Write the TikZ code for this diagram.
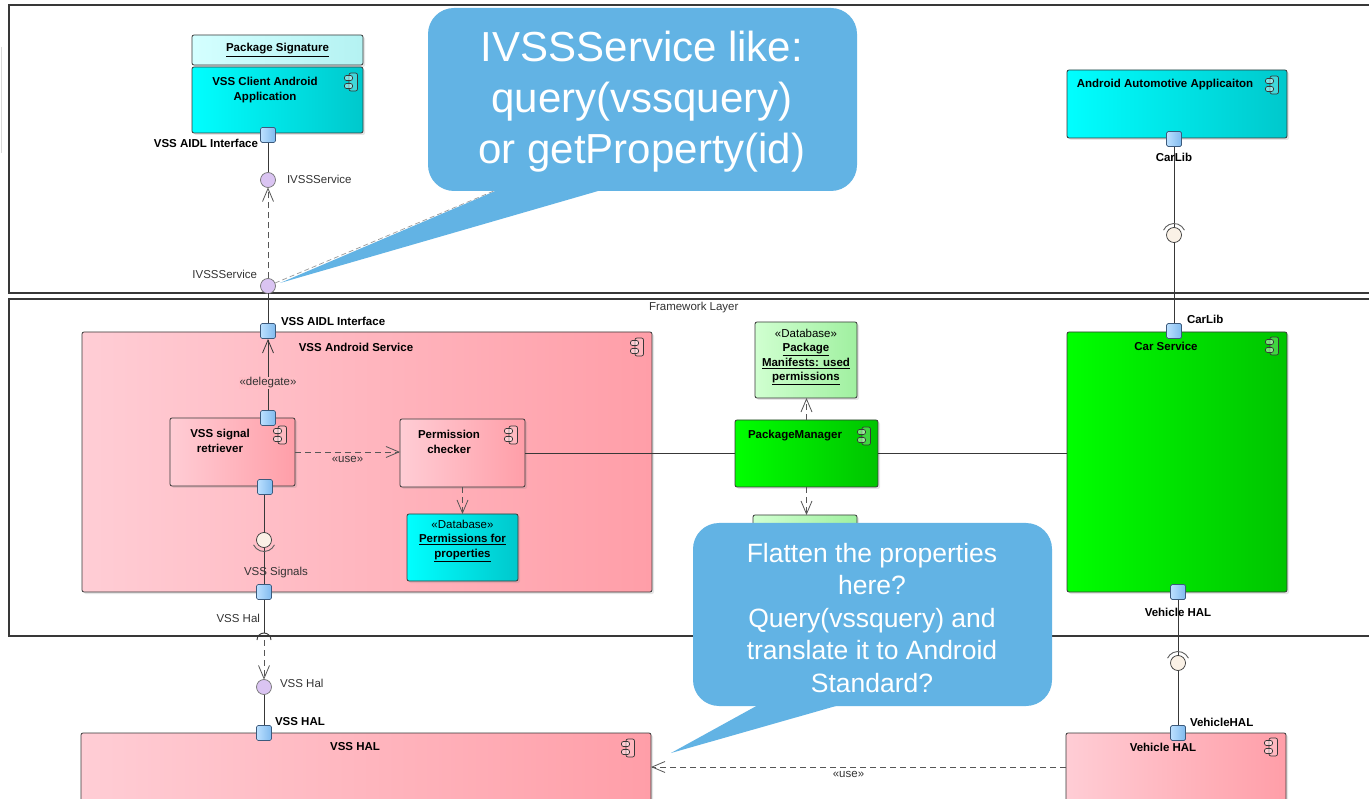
\documentclass[tikz,border=0pt]{standalone}
\usepackage{fontspec}
\setmainfont{Liberation Sans}
\usetikzlibrary{arrows.meta,shadows,calc}
\definecolor{cyanL}{HTML}{00FFFF}
\definecolor{cyanR}{HTML}{00C8CC}
\definecolor{pinkL}{HTML}{FFCDD5}
\definecolor{pinkR}{HTML}{FF9EA8}
\definecolor{greenL}{HTML}{00FF00}
\definecolor{greenR}{HTML}{00C400}
\definecolor{lgreenL}{HTML}{D0FFD0}
\definecolor{lgreenR}{HTML}{A0F0A0}
\definecolor{lcyanL}{HTML}{D4FFFF}
\definecolor{lcyanR}{HTML}{B4F2F2}
\definecolor{portL}{HTML}{BCE0FF}
\definecolor{portR}{HTML}{80BAEE}
\definecolor{portedge}{HTML}{3C5A7C}
\definecolor{lav}{HTML}{DAC4F2}
\definecolor{cream}{HTML}{FAF1E6}
\definecolor{callout}{HTML}{62B3E4}
\definecolor{edge}{HTML}{383838}
\tikzset{
  pics/compicon/.style={code={
    \draw[edge,line width=0.7pt,rounded corners=2pt,fill=white,fill opacity=0.25] (-3,-9) rectangle (5.5,9);
    \draw[edge,line width=0.7pt,rounded corners=2pt,fill=white,fill opacity=0.45] (-7.5,-6.5) rectangle (0.5,-1.5);
    \draw[edge,line width=0.7pt,rounded corners=2pt,fill=white,fill opacity=0.45] (-7.5,1.5) rectangle (0.5,6.5);
  }}
}
\begin{document}
\begin{tikzpicture}[x=1pt,y=-1pt,
  every node/.style={inner sep=0pt,outer sep=0pt},
  comp/.style={draw=edge,line width=0.8pt,rounded corners=2pt,
    drop shadow={shadow xshift=2pt,shadow yshift=-2pt,opacity=0.2}},
  cyanbox/.style={comp,left color=cyanL,right color=cyanR},
  lcyanbox/.style={comp,left color=lcyanL,right color=lcyanR},
  pinkbox/.style={comp,left color=pinkL,right color=pinkR},
  greenbox/.style={comp,left color=greenL,right color=greenR},
  lgreenbox/.style={comp,left color=lgreenL,right color=lgreenR},
  port/.style={draw=portedge,line width=0.7pt,rounded corners=1.5pt,minimum size=15pt,left color=portL,right color=portR},
  lolli/.style={circle,draw=edge!70,fill=lav,line width=0.7pt,minimum size=15pt},
  ball/.style={circle,draw=edge,fill=cream,line width=0.7pt,minimum size=15pt},
  sock/.style={draw=edge!80,line width=0.9pt},
  frame/.style={draw=edge,line width=1.1pt},
  conn/.style={draw=edge,line width=0.9pt},
  dconn/.style={draw=edge!85,line width=0.9pt,dash pattern=on 6pt off 4pt},
  arr/.style={-{Straight Barb[length=13pt,width=11pt,line width=0.8pt]}},
  lblb/.style={font=\fontsize{11.5}{15}\selectfont\bfseries,text=black,align=center},
  lbl/.style={font=\fontsize{11.5}{14}\selectfont,text=black!80,align=center},
  bigtxt/.style={font=\fontsize{42}{51}\selectfont,text=white,align=center},
  midtxt/.style={font=\fontsize{26.5}{32.5}\selectfont,text=white,align=center},
]
\useasboundingbox (0,0) rectangle (1369,799);
\fill[white] (0,0) rectangle (1369,799);
\draw[gray!30,line width=0.8pt] (1,47) -- (1,153);

% frames
\draw[frame] (9,5) rectangle (1385,293);
\draw[frame] (9,299) rectangle (1385,636);
\node[lbl,anchor=west] (fwl) at (649,308) {Framework Layer};

% ---------- top layer components
\node[lcyanbox,minimum width=171pt,minimum height=30pt] (pkgsig) at (277.5,50) {};
\node[lblb] (pkgsigt) at (277.5,50) {\underline{Package Signature}};
\node[cyanbox,minimum width=171pt,minimum height=66pt] (client) at (277.5,100) {};
\node[lblb] (clientt) at (265,90) {VSS Client Android\\Application};
\pic at (352,82) {compicon};

\node[cyanbox,minimum width=220pt,minimum height=68pt] (aaa) at (1177,104) {};
\node[lblb] (aaat) at (1165,85) {Android Automotive Applicaiton};
\pic at (1273,85) {compicon};

% ---------- framework layer components
\node[pinkbox,minimum width=570pt,minimum height=260pt] (vas) at (367,462) {};
\node[lblb] (vast) at (356,347) {VSS Android Service};
\pic at (638,347) {compicon};

\node[pinkbox,minimum width=125pt,minimum height=68pt] (retr) at (232.5,452) {};
\node[lblb] (retrt) at (220,441) {VSS signal\\retriever};
\pic at (281,435) {compicon};

\node[pinkbox,minimum width=125pt,minimum height=68pt] (perm) at (462.5,453) {};
\node[lblb] (permt) at (449,442) {Permission\\checker};
\pic at (512,435) {compicon};

\node[cyanbox,minimum width=111pt,minimum height=67pt] (permdb) at (462.5,547.5) {};
\node[lblb,font=\fontsize{11.5}{14.5}\selectfont\bfseries] (permdbt) at (462.5,541) {\mdseries«Database»\\\underline{Permissions for}\\\underline{properties}};

\node[lgreenbox,minimum width=102pt,minimum height=76pt] (pmdb) at (806,360) {};
\node[lblb,font=\fontsize{11.5}{14.5}\selectfont\bfseries] (pmdbt) at (806,357) {\mdseries«Database»\\\underline{Package}\\\underline{Manifests: used}\\\underline{permissions}};

\node[greenbox,minimum width=143pt,minimum height=67pt] (pm) at (806.5,453.5) {};
\node[lblb] (pmt) at (795,436) {PackageManager};
\pic at (865,436) {compicon};

\node[lgreenbox,minimum width=104pt,minimum height=45pt] (hidden) at (805,537.5) {};

\node[greenbox,minimum width=220pt,minimum height=260pt] (car) at (1177,462) {};
\node[lblb] (cart) at (1166,346) {Car Service};
\pic at (1273,346) {compicon};

% ---------- HAL layer
\node[pinkbox,minimum width=570pt,minimum height=68pt] (vsshal) at (366,767) {};
\node[lblb] (vsshalt) at (355,747) {VSS HAL};
\pic at (629,748) {compicon};

\node[pinkbox,minimum width=220pt,minimum height=68pt] (vhal) at (1176,767) {};
\node[lblb] (vhalt) at (1163,747) {Vehicle HAL};
\pic at (1272,747) {compicon};

% ---------- interface symbols
\node[lolli] (l1) at (268,180) {};
\node[lolli] (l2) at (268,286) {};
\node[lolli] (l3) at (264,687) {};
\node[ball] (s1) at (264,540) {};
\node[ball] (s2) at (1174,235) {};
\node[ball] (s3) at (1178,663) {};
\coordinate (fsock) at (264,640);
\coordinate (c1anchor) at (520,180);

% ---------- connectors
\draw[conn] (l2) -- (268,331);
\draw[conn] (268,135) -- (l1);
\draw[dconn,arr] (l2) -- (l1);
\draw[conn,arr] (268,410) -- (268,339) node[pos=0.38,lbl,fill=pinkL!65!pinkR,inner sep=1pt] (dlg) {«delegate»};
\draw[dconn,arr] (retr.east) -- (retr.east -| perm.west) node[midway,below=4pt,lbl] (use1) {«use»};
\draw[conn] (perm.east) -- (perm.east -| pm.west);
\draw[conn] (pm.east) -- (pm.east -| car.west);
\draw[dconn,arr] (perm.south) -- (permdb.north);
\draw[dconn,arr] (pm.north) -- (pm.north |- pmdb.south);
\draw[dconn,arr] (pm.south) -- (pm.south |- hidden.north);
\draw[conn] (264,487) -- (s1);
\draw[conn] (s1) -- (264,592);
\draw[sock] ([shift={(205:11.5pt)}]s1.center) arc[start angle=205,end angle=335,radius=11.5pt];
\draw[conn] (264,592) -- ([shift={(90:7pt)}]fsock);
\draw[conn] ([shift={(0:7pt)}]fsock) arc[start angle=0,end angle=180,radius=7pt];
\draw[dconn,arr] (fsock) -- (l3);
\draw[conn] (l3) -- (264,733);
\draw[conn] (1174,139) -- (s2);
\draw[conn] (s2) -- (1174,331);
\draw[sock] ([shift={(25:11.5pt)}]s2.center) arc[start angle=25,end angle=155,radius=11.5pt];
\draw[conn] (1178,592) -- (s3);
\draw[conn] (s3) -- (1178,733);
\draw[sock] ([shift={(25:11.5pt)}]s3.center) arc[start angle=25,end angle=155,radius=11.5pt];
\draw[dconn,arr] (vhal.west) -- (vsshal.east) node[midway,below=4pt,lbl,xshift=-10pt] (use2) {«use»};
\draw[draw=gray!80,line width=0.7pt,dash pattern=on 5pt off 3pt] (l2) -- (c1anchor);

% ---------- ports
\node[port] (p1) at (268,135) {};
\node[port] (p2) at (268,331) {};
\node[port] (p3) at (268,418) {};
\node[port] (p4) at (265,487) {};
\node[port] (p5) at (264,592) {};
\node[port] (p6) at (1174,139) {};
\node[port] (p7) at (1174,331) {};
\node[port] (p8) at (1178,592) {};
\node[port] (p9) at (1178,733) {};
\node[port] (p10) at (264,733) {};

% ---------- labels
\node[lblb,anchor=east] (lp1) at (258,143) {VSS AIDL Interface};
\node[lbl,anchor=west] (ll1) at (287,179) {IVSSService};
\node[lbl,anchor=east] (ll2) at (257,274) {IVSSService};
\node[lblb,anchor=west] (lp2) at (281,321) {VSS AIDL Interface};
\node[lbl] (ls1) at (276,573) {VSS Signals};
\node[lbl,anchor=east] (lfs) at (260,618) {VSS Hal};
\node[lbl,anchor=west] (ll3) at (280,683) {VSS Hal};
\node[lblb,anchor=west] (lp10) at (275,722) {VSS HAL};
\node[lblb] (lp6) at (1174,157) {CarLib};
\node[lblb,anchor=west] (lp7) at (1187,319) {CarLib};
\node[lblb] (lp8) at (1178,612) {Vehicle HAL};
\node[lblb,anchor=west] (lp9) at (1190,722) {VehicleHAL};

% ---------- callouts
\fill[callout,rounded corners=26pt] (428,8) rectangle (857,191);
\fill[callout] (500,189) -- (280,283) -- (605,189) -- cycle;
\node[bigtxt] (c1) at (642,102) {IVSSService like:\\query(vssquery)\\or getProperty(id)};

\fill[callout,rounded corners=26pt] (693,523) rectangle (1052,706);
\fill[callout] (760,704) -- (671,753) -- (843,704) -- cycle;
\node[midtxt] (c2) at (872,618) {Flatten the properties\\here?\\Query(vssquery) and\\translate it to Android\\Standard?};
\end{tikzpicture}
\end{document}
